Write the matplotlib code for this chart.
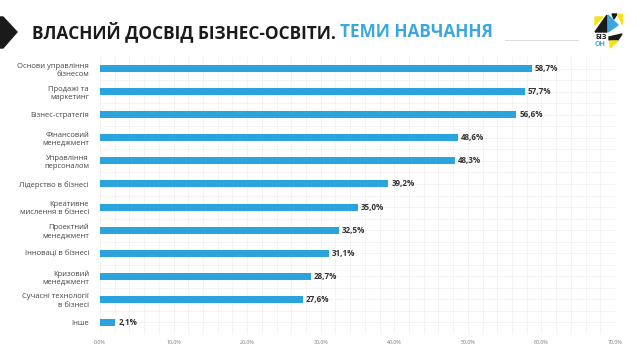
import matplotlib
matplotlib.use("Agg")
import matplotlib.pyplot as plt
from matplotlib.patches import Polygon
from matplotlib.ticker import FuncFormatter, MultipleLocator

# дані
категорії = ["Основи управління\nбізнесом", "Продажі та\nмаркетинг", "Бізнес-стратегія",
             "Фінансовий\nменеджмент", "Управління\nперсоналом", "Лідерство в бізнесі",
             "Креативне\nмислення в бізнесі", "Проектний\nменеджмент", "Інноваці в бізнесі",
             "Кризовий\nменеджмент", "Сучасні технології\nв бізнесі", "Інше"]
значення = [58.7, 57.7, 56.6, 48.6, 48.3, 39.2, 35.0, 32.5, 31.1, 28.7, 27.6, 2.1]
поділки = [0, 10, 20, 30, 40, 50, 60, 70]

plt.rcParams['font.family'] = ['Open Sans', 'DejaVu Sans']

W, H = 643, 361
fig = plt.figure(figsize=(W / 100, H / 100), dpi=100)

bar_color = "#2ba3dc"
ax = fig.add_axes([100 / W, 1 - 334 / H, 515 / W, 277 / H])
y = list(range(len(категорії)))
ax.barh(y, значення, height=0.3, color=bar_color, zorder=3)
ax.set_ylim(len(категорії) - 0.5, -0.5)
ax.set_xlim(0, 70)
ax.set_yticks(y)
ax.set_yticklabels(категорії, fontsize=5.5, color="#474747", linespacing=1.25,
                   multialignment="right")
ax.tick_params(axis="y", length=0, pad=8)
ax.set_xticks(поділки)
ax.xaxis.set_major_formatter(FuncFormatter(lambda v, p: f"{v:.1f}%".replace(".", ",")))
ax.tick_params(axis="x", length=0, labelsize=3.8, labelcolor="#777777", pad=4)
ax.xaxis.set_minor_locator(MultipleLocator(2))
ax.set_yticks([i + 0.5 for i in y[:-1]], minor=True)
ax.grid(which="both", color="#f1f1f1", linewidth=0.6, zorder=0)
ax.tick_params(which="minor", length=0)
for s in ax.spines.values():
    s.set_visible(False)

for yi, v in zip(y, значення):
    ax.text(v + 0.4, yi, f"{v:.1f}%".replace(".", ","), va="center", ha="left",
            fontsize=5.8, fontweight="bold", color="#333333")

# заголовок
fig.patches.append(Polygon([[0, 1 - 17 / H], [3 / W, 1 - 17 / H], [17 / W, 1 - 32 / H],
                            [3 / W, 1 - 48 / H], [0, 1 - 48 / H]],
                           closed=True, transform=fig.transFigure, color="#1a1a1a"))
t1 = fig.text(32 / W, 1 - 32 / H, "ВЛАСНИЙ ДОСВІД БІЗНЕС-ОСВІТИ. ", fontsize=12.4,
              fontweight="bold", color="#1a1a1a", va="center", ha="left")
fig.canvas.draw()
bb = t1.get_window_extent()
fig.text(bb.x1 / W, 1 - 32 / H, "ТЕМИ НАВЧАННЯ", fontsize=12.4, fontweight="bold",
         color="#3aa8dc", va="center", ha="left")
fig.add_artist(plt.Line2D([505 / W, 578 / W], [1 - 40 / H, 1 - 40 / H],
                          transform=fig.transFigure, color="#dddddd", linewidth=0.8))

# логотип
def tri(pts, c):
    fig.patches.append(Polygon([[x / W, 1 - yy / H] for x, yy in pts], closed=True,
                               transform=fig.transFigure, color=c))

tri([(595, 17), (603, 17), (595, 25)], "#f5e21b")
tri([(595, 32), (607, 15), (607, 32)], "#1a1a1a")
tri([(608, 15), (618, 25), (608, 32)], "#3aa8dc")
tri([(612, 14), (617, 14), (614, 19)], "#1a1a1a")
tri([(617, 14), (622, 14), (622, 24)], "#f5e21b")
tri([(609, 37), (622, 34), (618, 40), (609, 40)], "#1a1a1a")
tri([(610, 41), (618, 41), (610, 48)], "#f5e21b")
fig.text(595 / W, 1 - 37.5 / H, "БІЗ", fontsize=5.0, fontweight="bold", color="#1a1a1a",
         va="center", ha="left")
fig.text(595 / W, 1 - 44.5 / H, "ОН", fontsize=5.0, fontweight="bold", color="#3aa8dc",
         va="center", ha="left")

fig.savefig("out.png", dpi=100)
